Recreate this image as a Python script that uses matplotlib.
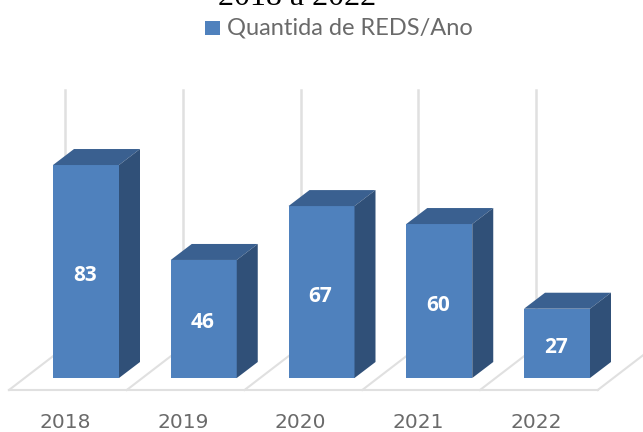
import matplotlib
matplotlib.use('Agg')
import matplotlib.pyplot as plt
from matplotlib.patches import Polygon, Rectangle

years = ['2018', '2019', '2020', '2021', '2022']
reds = [83, 46, 67, 60, 27]
title = '2018 a 2022'
legend_label = 'Quantida de REDS/Ano'

FRONT = '#4f81bd'
TOP = '#3a6090'
SIDE = '#305078'
GRID = '#e0e0e0'
GRAY = '#6a6a6a'

# one category step is 117.75 px, one REDS is 2.566 px
X_STEP = 117.75
Y_STEP = 2.566
dx = 21 / X_STEP
dy = 16 / Y_STEP
width = 66 / X_STEP

fig = plt.figure(figsize=(6.43, 4.32), dpi=100)
ax = fig.add_axes([0, 0, 1, 1])
ax.set_xlim(-86 / X_STEP, (643 - 86) / X_STEP)
ax.set_ylim(-54 / Y_STEP, 378 / Y_STEP)
ax.axis('off')

# floor and back wall
floor_y = -12 / Y_STEP
floor_x = -77 / X_STEP
back_dx = 56 / X_STEP
back_dy = 43 / Y_STEP
wall_top = 288 / Y_STEP
n = len(years)
for i in range(n + 1):
    x0 = i + floor_x
    ax.plot([x0, x0 + back_dx], [floor_y, floor_y + back_dy], color=GRID, lw=1.5, zorder=1)
    if i < n:
        ax.plot([x0 + back_dx] * 2, [floor_y + back_dy, wall_top], color=GRID, lw=1.8, zorder=1)
ax.plot([floor_x, n + floor_x], [floor_y, floor_y], color=GRID, lw=1.5, zorder=1)

# 3d bars
for i, v in enumerate(reds):
    l = i - width / 2
    r = i + width / 2
    ax.add_patch(Rectangle((l, 0), width, v, fc=FRONT, ec='none', zorder=3))
    ax.add_patch(Polygon([(l, v), (r, v), (r + dx, v + dy), (l + dx, v + dy)], fc=TOP, ec='none', zorder=3))
    ax.add_patch(Polygon([(r, 0), (r + dx, dy), (r + dx, v + dy), (r, v)], fc=SIDE, ec='none', zorder=3))
    ax.text(i - 1 / X_STEP, v / 2 - 4 / Y_STEP, str(v), color='white', fontsize=15, fontweight='bold',
            family='Open Sans', ha='center', va='center', zorder=4)
    ax.text(i - 21 / X_STEP, -45 / Y_STEP, years[i], color=GRAY, fontsize=14.5, family='DejaVu Sans',
            ha='center', va='center')

# title is cut by the top edge
fig.text(297 / 643, 1 - 5 / 432, title, fontsize=23, family='Liberation Serif', color='black',
         ha='center', va='baseline')

# legend
fig.patches.append(Rectangle((205 / 643, 1 - 35 / 432), 15 / 643, 14 / 432, transform=fig.transFigure,
                             fc=FRONT, ec='none'))
fig.text(227 / 643, 1 - 28 / 432, legend_label, fontsize=17, family='Lato', color=GRAY,
         ha='left', va='center')

fig.savefig('out.png', dpi=100)
